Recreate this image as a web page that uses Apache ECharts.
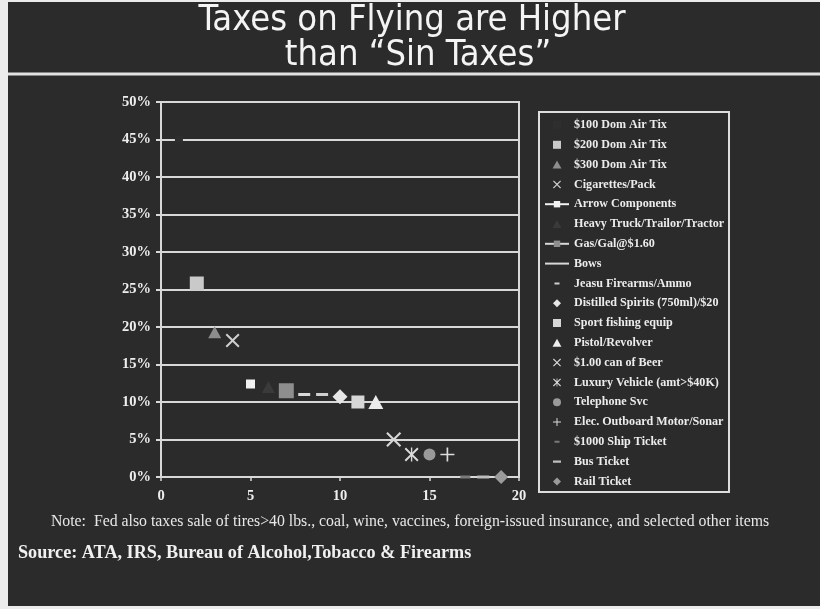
<!DOCTYPE html>
<html>
<head>
<meta charset="utf-8">
<script src="https://cdn.jsdelivr.net/npm/echarts@6/dist/echarts.min.js"></script>
<style>html,body{margin:0;padding:0;background:#ececec;}#c{width:820px;height:609px;}</style>
</head>
<body>
<div id="c"></div>
<script>
// ---- data ----
var itemNames = ["$100 Dom Air Tix","$200 Dom Air Tix","$300 Dom Air Tix","Cigarettes/Pack","Arrow Components","Heavy Truck/Trailor/Tractor","Gas/Gal@$1.60","Bows","Jeasu Firearms/Ammo","Distilled Spirits (750ml)/$20","Sport fishing equip","Pistol/Revolver","$1.00 can of Beer","Luxury Vehicle (amt>$40K)","Telephone Svc","Elec. Outboard Motor/Sonar","$1000 Ship Ticket","Bus Ticket","Rail Ticket"];
var xValues = [1,2,3,4,5,6,7,8,9,10,11,12,13,14,15,16,17,18,19];
var taxRates = [45,25.8,19.3,18.2,12.4,12,11.5,11,11,10.7,10,10,5,3,3,3,0,0,0];
var yTicks = [0,5,10,15,20,25,30,35,40,45,50];
var xTicks = [0,5,10,15,20];

// ---- styles (by series index) ----
var SQUARE = 'path://M0,0L10,0L10,10L0,10Z';
var TRI = 'path://M5,0L10,9L0,9Z';
var DIAMOND = 'path://M5,0L10,5L5,10L0,5Z';
var DASH = 'path://M0,0L10,0L10,3L0,3Z';
var X_PATH = 'path://M0,1L1,0L5,4L9,0L10,1L6,5L10,9L9,10L5,6L1,10L0,9L4,5Z';
var STAR_PATH = 'path://M0,1L1,0L4.5,3.5L4.5,0L5.5,0L5.5,3.5L9,0L10,1L6,5L10,9L9,10L5.5,6.5L5.5,10L4.5,10L4.5,6.5L1,10L0,9L4,5Z';
var PLUS_PATH = 'path://M4.4,0L5.6,0L5.6,4.4L10,4.4L10,5.6L5.6,5.6L5.6,10L4.4,10L4.4,5.6L0,5.6L0,4.4L4.4,4.4Z';
var LINE_ICON = 'path://M0,0L24,0L24,2L0,2Z';
// legend icons with an invisible 24x8 frame so the dash keeps its small size
var SHORT_DASH_ICON = 'path://M0,0L0.01,0L0,0.01Z M24,8L23.99,8L24,7.99Z M9.5,3L14.5,3L14.5,5L9.5,5Z';
var LONG_DASH_ICON = 'path://M0,0L0.01,0L0,0.01Z M24,8L23.99,8L24,7.99Z M8,3L16,3L16,5.2L8,5.2Z';
var styles = [
  {type:'scatter', symbol:SQUARE, size:8, color:'#2e2e2e'},
  {type:'scatter', symbol:SQUARE, size:14, color:'#c9c9c9'},
  {type:'scatter', symbol:TRI, size:[13,12], color:'#8d8d8d'},
  {type:'scatter', symbol:X_PATH, size:14, color:'#cfcfcf'},
  {type:'line', symbol:'rect', size:9, color:'#f2f2f2'},
  {type:'scatter', symbol:TRI, size:[13,12], color:'#3a3a3a'},
  {type:'line', symbol:'rect', size:15, color:'#8e8e8e', line:'#d8d8d8'},
  {type:'line', symbol:DASH, size:[12,3], color:'#d8d8d8', icon:LINE_ICON},
  {type:'scatter', symbol:DASH, size:[12,3], color:'#cfcfcf', icon:SHORT_DASH_ICON},
  {type:'scatter', symbol:DIAMOND, size:15, color:'#e6e6e6'},
  {type:'scatter', symbol:SQUARE, size:13, color:'#d6d6d6'},
  {type:'scatter', symbol:TRI, size:[15,14], color:'#ececec'},
  {type:'scatter', symbol:X_PATH, size:15, color:'#d6d6d6'},
  {type:'scatter', symbol:STAR_PATH, size:14, color:'#dadada'},
  {type:'scatter', symbol:'circle', size:12, color:'#9a9a9a'},
  {type:'scatter', symbol:PLUS_PATH, size:14, color:'#dcdcdc'},
  {type:'scatter', symbol:DASH, size:[10,3], color:'#7a7a7a', icon:SHORT_DASH_ICON},
  {type:'scatter', symbol:DASH, size:[12,3], color:'#bdbdbd', icon:LONG_DASH_ICON},
  {type:'scatter', symbol:DIAMOND, size:14, color:'#9b9b9b'}
];

var serif = '"Liberation Serif","Times New Roman",serif';

var series = itemNames.map(function(n, i){
  var st = styles[i];
  var s = {
    name: n,
    type: st.type,
    data: [[xValues[i], taxRates[i]]],
    symbol: st.symbol,
    symbolSize: st.size,
    itemStyle: {color: st.color, opacity: 1},
    z: 5
  };
  if (st.type === 'line') {
    s.lineStyle = {color: st.line || st.color, width: 2};
    s.showSymbol = true;
  }
  return s;
});

var legendData = itemNames.map(function(n, i){
  var st = styles[i];
  var d = {name: n};
  if (st.icon) d.icon = st.icon;
  else if (st.type === 'scatter') d.icon = st.symbol;
  return d;
});

var chart = echarts.init(document.getElementById('c'), null, {renderer:'canvas'});
chart.setOption({
  backgroundColor: '#ececec',
  animation: false,
  graphic: [
    {type:'rect', shape:{x:8,y:2,width:812,height:604}, style:{fill:'#2b2b2b'}, z:-10, silent:true},
    {type:'rect', shape:{x:8,y:72.5,width:812,height:3}, style:{fill:'#e2e2e2'}, z:-9, silent:true},
    {type:'text', x:412, y:21, style:{text:'Taxes on Flying are Higher', fill:'#f4f4f4', font:'36px "DejaVu Sans Condensed","DejaVu Sans",sans-serif', textAlign:'center', textVerticalAlign:'middle'}},
    {type:'text', x:418, y:56, style:{text:'than \u201cSin Taxes\u201d', fill:'#f4f4f4', font:'36px "DejaVu Sans Condensed","DejaVu Sans",sans-serif', textAlign:'center', textVerticalAlign:'middle'}},
    {type:'rect', shape:{x:539,y:112,width:190,height:380}, style:{fill:'none', stroke:'#dedede', lineWidth:2}, z:1},
    {type:'text', x:410, y:522, style:{text:'Note:  Fed also taxes sale of tires>40 lbs., coal, wine, vaccines, foreign-issued insurance, and selected other items', fill:'#e8e8e8', font:'15.8px ' + serif, textAlign:'center', textVerticalAlign:'middle'}},
    {type:'text', x:18, y:553, style:{text:'Source: ATA, IRS, Bureau of Alcohol,Tobacco & Firearms', fill:'#f0f0f0', font:'bold 18.2px ' + serif, textAlign:'left', textVerticalAlign:'middle'}}
  ],
  grid: {left:161, right:301, top:102, bottom:132, show:true, borderColor:'#d8d8d8', borderWidth:2},
  xAxis: {
    type:'value', min:xTicks[0], max:xTicks[xTicks.length-1], interval:5,
    axisLine:{show:true, lineStyle:{color:'#d8d8d8', width:2}},
    axisTick:{show:true, length:4, lineStyle:{color:'#d8d8d8', width:1.5}},
    splitLine:{show:false},
    axisLabel:{color:'#eeeeee', fontFamily:serif, fontWeight:'bold', fontSize:14.5, margin:12}
  },
  yAxis: {
    type:'value', min:yTicks[0], max:yTicks[yTicks.length-1], interval:5,
    axisLine:{show:true, lineStyle:{color:'#d8d8d8', width:2}},
    axisTick:{show:true, length:5, lineStyle:{color:'#d8d8d8', width:2}},
    splitLine:{show:true, lineStyle:{color:'#d8d8d8', width:2}},
    axisLabel:{color:'#eeeeee', fontFamily:serif, fontWeight:'bold', fontSize:14.5, margin:10, formatter:'{value}%'}
  },
  legend: {
    orient:'vertical', left:538, top:113, padding:[6,6,6,6],
    itemWidth:24, itemHeight:8, itemGap:7.8,
    symbolKeepAspect:true,
    textStyle:{color:'#ececec', fontFamily:serif, fontWeight:'bold', fontSize:12.1},
    data: legendData
  },
  series: series
});
</script>
</body>
</html>
